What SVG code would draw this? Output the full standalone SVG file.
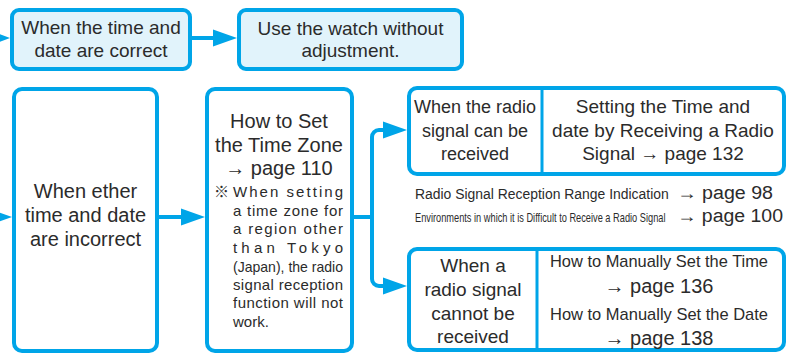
<svg xmlns="http://www.w3.org/2000/svg" width="787" height="353" viewBox="0 0 787 353">
<style>
.box{fill:#ffffff;stroke:#00a5e8;stroke-width:4}
.lt{fill:#e1f3fb}
.ln{fill:none;stroke:#00a5e8;stroke-width:4}
.ah{fill:#00a5e8}
text{font-family:"Liberation Sans","DejaVu Sans","Noto Sans CJK JP",sans-serif;fill:#2b2b2b}
.c{text-anchor:middle}
.f20{font-size:20px}
.f19{font-size:19px}
.f18{font-size:18px}
.n{font-size:15px}
</style>
<rect width="787" height="353" fill="#ffffff"/>
<g id="connectors">
  <polygon class="ah" points="-12,29.5 10,38 -12,46.5"/>
  <line class="ln" x1="190" y1="38" x2="216" y2="38"/>
  <polygon class="ah" points="213,29.5 237,38 213,46.5"/>
  <polygon class="ah" points="-12,208.5 12,217 -12,225.5"/>
  <line class="ln" x1="157" y1="217" x2="184" y2="217"/>
  <polygon class="ah" points="181,208.5 205,217 181,225.5"/>
  <path class="ln" d="M352,217 H372 M386,130 H379 A7,7 0 0 0 372,137 V279 A7,7 0 0 0 379,286 H386"/>
  <polygon class="ah" points="383,121.5 407,130 383,138.5"/>
  <polygon class="ah" points="383,277.5 407,286 383,294.5"/>
</g>
<g id="correct">
  <rect class="box lt" x="12" y="10" width="178" height="59" rx="7"/>
  <text class="c f19" x="101" y="34">When the time and</text>
  <text class="c f19" x="101" y="57">date are correct</text>
</g>
<g id="use-watch">
  <rect class="box lt" x="239" y="10" width="223" height="59" rx="7"/>
  <text class="c f19" x="350.5" y="35">Use the watch without</text>
  <text class="c f19" x="350.5" y="57">adjustment.</text>
</g>
<g id="incorrect">
  <rect class="box" x="14" y="89" width="143" height="262" rx="8"/>
  <text class="c f20" x="85.5" y="198">When ether</text>
  <text class="c f20" x="85.5" y="222">time and date</text>
  <text class="c f20" x="85.5" y="246">are incorrect</text>
</g>
<g id="time-zone">
  <rect class="box" x="207" y="89" width="145" height="262" rx="8"/>
  <text class="c f20" x="279" y="128">How to Set</text>
  <text class="c f20" x="279" y="152">the Time Zone</text>
  <text class="c f20" x="279" y="175">→ page 110</text>
  <text class="n" x="214" y="197" font-size="12" style="font-family:'Noto Sans CJK JP',sans-serif">※</text>
  <text class="n" x="233" y="197" textLength="110" lengthAdjust="spacing">When setting</text>
  <text class="n" x="233" y="216" textLength="110" lengthAdjust="spacing">a time zone for</text>
  <text class="n" x="233" y="234" textLength="110" lengthAdjust="spacing">a region other</text>
  <text class="n" x="233" y="253" textLength="110" lengthAdjust="spacing">than Tokyo</text>
  <text class="n" x="233" y="272" textLength="110" lengthAdjust="spacingAndGlyphs">(Japan), the radio</text>
  <text class="n" x="233" y="290" textLength="110" lengthAdjust="spacing">signal reception</text>
  <text class="n" x="233" y="308" textLength="110" lengthAdjust="spacing">function will not</text>
  <text class="n" x="233" y="327">work.</text>
</g>
<g id="radio-received">
  <rect class="box" x="409" y="88" width="375" height="86" rx="8"/>
  <line class="ln" x1="542" y1="88" x2="542" y2="174" style="stroke-width:3"/>
  <text class="c f18" x="475" y="113">When the radio</text>
  <text class="c f18" x="475" y="137">signal can be</text>
  <text class="c f18" x="475" y="160">received</text>
  <text class="c f19" x="663" y="113">Setting the Time and</text>
  <text class="c f19" x="663" y="137">date by Receiving a Radio</text>
  <text class="c f19" x="663" y="160">Signal → page 132</text>
</g>
<g id="reference-notes">
  <text transform="translate(415,199) scale(0.899,1)" font-size="15.5">Radio Signal Reception Range Indication</text>
  <text x="677" y="199" class="f18" textLength="96" lengthAdjust="spacingAndGlyphs">→ page 98</text>
  <text transform="translate(415,222) scale(0.74,1)" font-size="12.5">Environments in which it is Difficult to Receive a Radio Signal</text>
  <text x="677" y="222" class="f18" textLength="106" lengthAdjust="spacingAndGlyphs">→ page 100</text>
</g>
<g id="radio-not-received">
  <rect class="box" x="409" y="249" width="375" height="101" rx="8"/>
  <line class="ln" x1="537" y1="249" x2="537" y2="350" style="stroke-width:3"/>
  <text class="c f19" x="473" y="272">When a</text>
  <text class="c f19" x="473" y="296">radio signal</text>
  <text class="c f19" x="473" y="320">cannot be</text>
  <text class="c f19" x="473" y="343">received</text>
  <text class="c" x="659" y="267" font-size="17" textLength="218" lengthAdjust="spacingAndGlyphs">How to Manually Set the Time</text>
  <text class="c f20" x="659" y="293">→ page 136</text>
  <text class="c" x="659" y="320" font-size="17" textLength="218" lengthAdjust="spacingAndGlyphs">How to Manually Set the Date</text>
  <text class="c f20" x="659" y="345">→ page 138</text>
</g>
</svg>
